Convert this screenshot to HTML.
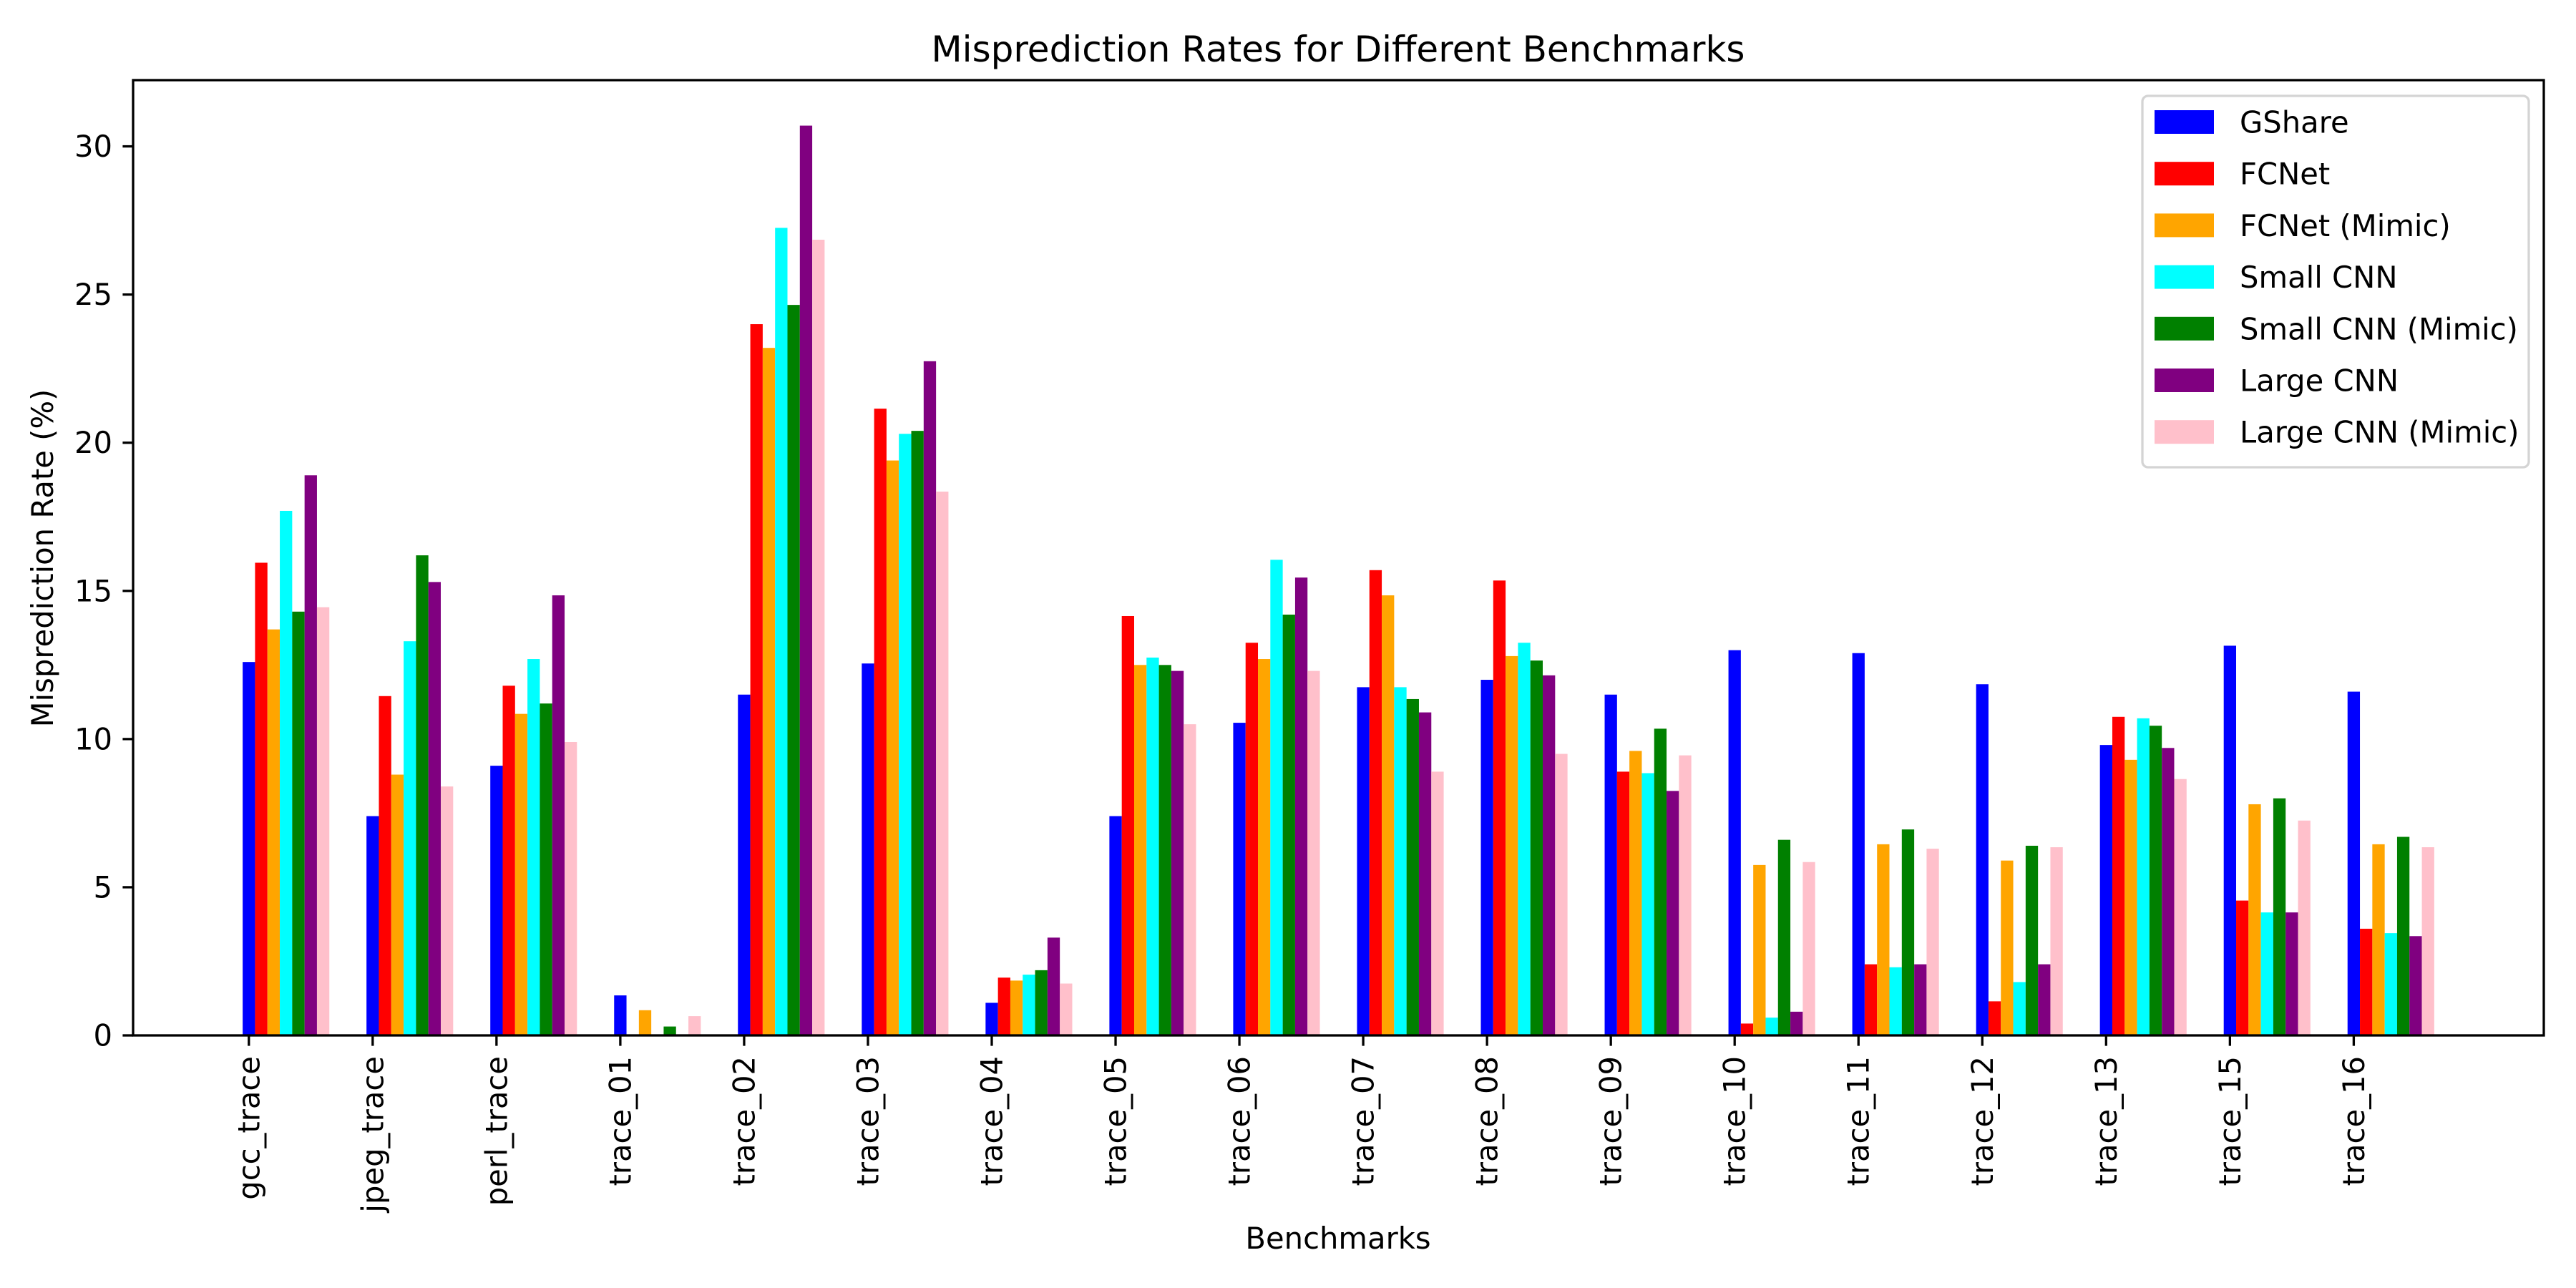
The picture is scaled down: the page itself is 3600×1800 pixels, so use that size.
<!DOCTYPE html>
<html><head><meta charset="utf-8"><style>
html,body{margin:0;padding:0;background:#fff;}
svg{display:block;font-family:"DejaVu Sans","Liberation Sans",sans-serif;}
</style></head>
<body>
<svg id="chart" width="3600" height="1800" viewBox="0 0 3600 1800" xmlns="http://www.w3.org/2000/svg">
<rect x="0" y="0" width="3600" height="1800" fill="#fff"/>
<text x="1870" y="86" font-size="50" text-anchor="middle">Misprediction Rates for Different Benchmarks</text>
<g id="bars"></g>
<g id="xticks"></g>
<g id="yticks"></g>
<rect x="186" y="112" width="3369" height="1335" fill="none" stroke="#000" stroke-width="3.3"/>
<text x="1870" y="1745" font-size="41.7" text-anchor="middle">Benchmarks</text>
<text transform="translate(74,780) rotate(-90)" font-size="41.7" text-anchor="middle">Misprediction Rate (%)</text>
<g id="legend"></g>
</svg>
<script>
const categories = ["gcc_trace","jpeg_trace","perl_trace","trace_01","trace_02","trace_03","trace_04","trace_05","trace_06","trace_07","trace_08","trace_09","trace_10","trace_11","trace_12","trace_13","trace_15","trace_16"];
const seriesNames = ["GShare","FCNet","FCNet (Mimic)","Small CNN","Small CNN (Mimic)","Large CNN","Large CNN (Mimic)"];
const seriesColors = ["#0000ff","#ff0000","#ffa500","#00ffff","#008000","#800080","#ffc0cb"];
const gshare = [12.6,7.4,9.1,1.35,11.5,12.55,1.1,7.4,10.55,11.75,12.0,11.5,13.0,12.9,11.85,9.8,13.15,11.6];
const fcnet = [15.95,11.45,11.8,0,24.0,21.15,1.95,14.15,13.25,15.7,15.35,8.9,0.4,2.4,1.15,10.75,4.55,3.6];
const fcnetMimic = [13.7,8.8,10.85,0.85,23.2,19.4,1.85,12.5,12.7,14.85,12.8,9.6,5.75,6.45,5.9,9.3,7.8,6.45];
const smallCnn = [17.7,13.3,12.7,0,27.25,20.3,2.05,12.75,16.05,11.75,13.25,8.85,0.6,2.3,1.8,10.7,4.15,3.45];
const smallCnnMimic = [14.3,16.2,11.2,0.3,24.65,20.4,2.2,12.5,14.2,11.35,12.65,10.35,6.6,6.95,6.4,10.45,8.0,6.7];
const largeCnn = [18.9,15.3,14.85,0,30.7,22.75,3.3,12.3,15.45,10.9,12.15,8.25,0.8,2.4,2.4,9.7,4.15,3.35];
const largeCnnMimic = [14.45,8.4,9.9,0.65,26.85,18.35,1.75,10.5,12.3,8.9,9.5,9.45,5.85,6.3,6.35,8.65,7.25,6.35];
const yTicks = [0,5,10,15,20,25,30];

const series = [gshare,fcnet,fcnetMimic,smallCnn,smallCnnMimic,largeCnn,largeCnnMimic];
const NS = "http://www.w3.org/2000/svg";
const L=186,R=3555,T=112,B=1447;
const barW=0.1;
const xMinD=-barW/2, xMaxD=(categories.length-1)+(series.length-1)*barW+barW/2;
const mg=(xMaxD-xMinD)*0.05;
const xMin=xMinD-mg, xMax=xMaxD+mg;
let maxV=0; series.forEach(s=>s.forEach(v=>{if(v>maxV)maxV=v;}));
const yMax=maxV*1.05;
const xs=v=>L+(v-xMin)/(xMax-xMin)*(R-L);
const ys=v=>B-v/yMax*(B-T);
function mk(tag,attrs,parent){const e=document.createElementNS(NS,tag);for(const k in attrs)e.setAttribute(k,attrs[k]);parent.appendChild(e);return e;}
const gb=document.getElementById('bars');
series.forEach((s,k)=>{
  s.forEach((v,i)=>{
    const c=i+k*barW;
    const r=mk('rect',{x:xs(c-barW/2),y:ys(v),width:xs(c+barW/2)-xs(c-barW/2),height:B-ys(v),fill:seriesColors[k]},gb);
    
    
  });
});
const gx=document.getElementById('xticks');
categories.forEach((c,i)=>{
  const x=xs(i);
  const t=mk('line',{x1:x,x2:x,y1:B,y2:B+14.6,stroke:'#000','stroke-width':3.3},gx);
  
  
  const tx=mk('text',{transform:`translate(${x},${B+29}) rotate(-90)`,'font-size':41.7,'text-anchor':'end','dominant-baseline':'central'},gx);
  tx.textContent=c;
  
  
});
const gy=document.getElementById('yticks');
yTicks.forEach(v=>{
  const y=ys(v);
  const t=mk('line',{x1:L-14.6,x2:L,y1:y,y2:y,stroke:'#000','stroke-width':3.3},gy);
  
  
  const tx=mk('text',{x:L-29,y:y,'font-size':41.7,'text-anchor':'end','dominant-baseline':'central'},gy);
  tx.textContent=v;
  
  
});
const gl=document.getElementById('legend');
const box=mk('rect',{x:2994,y:134,width:540,height:519,rx:8,fill:'#fff',stroke:'#d4d4d4','stroke-width':3.3},gl);


seriesNames.forEach((n,k)=>{
  const y=154+k*72.2;
  const p=mk('rect',{x:3011,y:y,width:83,height:33,fill:seriesColors[k]},gl);
  
  
  const tx=mk('text',{x:3130,y:y+17,'font-size':41.7,'dominant-baseline':'central'},gl);
  tx.textContent=n;
  
  
});
</script>
</body></html>
